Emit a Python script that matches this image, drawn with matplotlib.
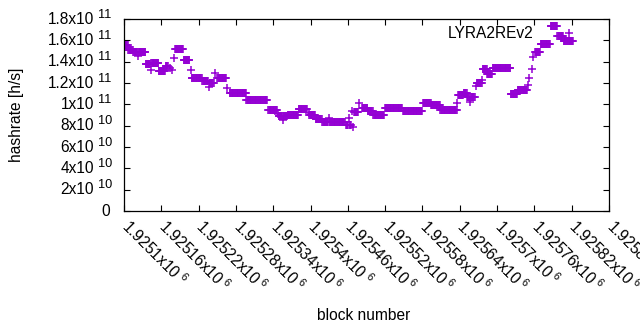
import numpy as np
import matplotlib
matplotlib.use('Agg')
import matplotlib.pyplot as plt
from matplotlib.ticker import NullFormatter
from matplotlib.transforms import ScaledTranslation

plt.rcParams['font.family'] = ['Liberation Sans', 'DejaVu Sans']
plt.rcParams['mathtext.fontset'] = 'custom'
plt.rcParams['mathtext.rm'] = 'Liberation Sans'

# runs of consecutive blocks with the same reported hashrate
run_first = [1925100, 1925107, 1925115, 1925123, 1925124, 1925135, 1925143, 1925144,
             1925156, 1925167, 1925174, 1925177, 1925180, 1925182, 1925196, 1925207,
             1925209, 1925226, 1925237, 1925238, 1925246, 1925250, 1925266, 1925270,
             1925297, 1925332, 1925348, 1925349, 1925356, 1925357, 1925363, 1925381,
             1925397, 1925398, 1925408, 1925419, 1925430, 1925431, 1925457, 1925462,
             1925463, 1925467, 1925468, 1925470, 1925478, 1925483, 1925492, 1925501,
             1925520, 1925521, 1925549, 1925581, 1925594, 1925609, 1925636, 1925637,
             1925646, 1925652, 1925656, 1925657, 1925666, 1925667, 1925676, 1925677,
             1925684, 1925693, 1925722, 1925733, 1925750, 1925752, 1925756, 1925758,
             1925761, 1925770, 1925786, 1925797, 1925807]
run_last = [1925106, 1925114, 1925122, 1925123, 1925134, 1925142, 1925143, 1925155,
            1925166, 1925170, 1925174, 1925177, 1925180, 1925195, 1925205, 1925207,
            1925225, 1925235, 1925237, 1925244, 1925246, 1925264, 1925266, 1925296,
            1925330, 1925346, 1925348, 1925355, 1925356, 1925362, 1925380, 1925394,
            1925397, 1925407, 1925418, 1925428, 1925430, 1925455, 1925460, 1925462,
            1925465, 1925467, 1925468, 1925476, 1925478, 1925491, 1925500, 1925518,
            1925520, 1925547, 1925579, 1925593, 1925608, 1925635, 1925636, 1925645,
            1925651, 1925655, 1925656, 1925664, 1925666, 1925675, 1925676, 1925683,
            1925692, 1925721, 1925732, 1925748, 1925750, 1925752, 1925756, 1925758,
            1925769, 1925785, 1925796, 1925806, 1925822]
run_hashrate = [15.6e10, 15.05e10, 14.9e10, 14.5e10, 14.9e10, 13.8e10, 13.2e10, 13.9e10,
                13.1e10, 13.6e10, 13.4e10, 13.2e10, 14.3e10, 15.2e10, 14.2e10, 13.2e10,
                12.5e10, 12.2e10, 11.6e10, 12.0e10, 12.9e10, 12.5e10, 11.5e10, 11.1e10,
                10.4e10, 9.5e10, 9.1e10, 8.9e10, 8.5e10, 8.9e10, 9.0e10, 9.6e10,
                9.2e10, 9.0e10, 8.6e10, 8.3e10, 8.7e10, 8.3e10, 8.1e10, 8.7e10,
                8.1e10, 9.4e10, 7.9e10, 9.3e10, 10.1e10, 9.7e10, 9.4e10, 9.0e10,
                9.7e10, 9.7e10, 9.4e10, 10.1e10, 9.9e10, 9.5e10, 10.1e10, 10.9e10,
                11.1e10, 10.7e10, 10.2e10, 10.7e10, 11.7e10, 12.0e10, 12.3e10, 13.3e10,
                12.8e10, 13.4e10, 11.0e10, 11.3e10, 11.8e10, 12.5e10, 13.3e10, 14.4e10,
                14.9e10, 15.7e10, 17.3e10, 16.4e10, 15.9e10]

x_ticks = np.arange(1925100, 1925881, 60)
y_ticks = np.arange(0, 1.81e11, 2e10)

blocks = np.concatenate([np.arange(a, b + 1) for a, b in zip(run_first, run_last)])
hashrate = np.concatenate([np.full(b - a + 1, v) for a, b, v in zip(run_first, run_last, run_hashrate)])

purple = '#9400d3'
fs = 11.2

fig = plt.figure(figsize=(6.4, 3.3), dpi=100)
ax = fig.add_axes([124/640, 119/330, 485/640, 192/330])
ax.plot(blocks, hashrate, linestyle='none', marker='+', ms=5.2, mew=1.1,
        color=purple, label='LYRA2REv2')

ax.set_xlim(1925100, 1925880)
ax.set_ylim(0, 1.8e11)
ax.set_xticks(x_ticks)
ax.set_yticks(y_ticks)
ax.xaxis.set_major_formatter(NullFormatter())
ax.yaxis.set_major_formatter(NullFormatter())
ax.tick_params(direction='in', length=4, width=0.8, top=True, right=True)
for s in ax.spines.values():
    s.set_linewidth(0.9)


def split(v):
    e = int(np.floor(np.log10(abs(v)) + 1e-9))
    return '%gx10' % (v / 10**e), '%d' % e


def px(dx, dy):
    return ScaledTranslation(dx / 100, dy / 100, fig.dpi_scale_trans)


# y tick labels, gnuplot style "1.8x10 11"
ytr = ax.get_yaxis_transform()
for v in y_ticks:
    if v == 0:
        ax.text(0, v, '0', transform=ytr + px(-14, 0), ha='right', va='center', fontsize=fs)
        continue
    base, ex = split(v)
    ax.text(0, v, base, transform=ytr + px(-30, -4.5), ha='right', va='baseline', fontsize=fs)
    ax.text(0, v, ex, transform=ytr + px(-26, 1.5), ha='left', va='baseline', fontsize=fs * 0.82)

# x tick labels, rotated
xtr = ax.get_xaxis_transform()
for v in x_ticks:
    base, ex = split(v)
    ax.text(v, 0, r'$\mathregular{%s^{\ %s}}$' % (base, ex), transform=xtr + px(-4, -17),
            rotation=-45, ha='left', va='baseline', rotation_mode='anchor', fontsize=fs)

fig.text(17/640, 1 - 115/330, 'hashrate [h/s]', rotation=90, ha='center', va='center', fontsize=fs)
fig.text(364/640, 1 - 315/330, 'block number', ha='center', va='center', fontsize=fs)

ax.legend(loc='upper right', bbox_to_anchor=(0.962, 1.036), markerfirst=False,
          frameon=False, fontsize=fs, handlelength=1.0, handletextpad=1.75)

fig.savefig('out.png', dpi=100)
